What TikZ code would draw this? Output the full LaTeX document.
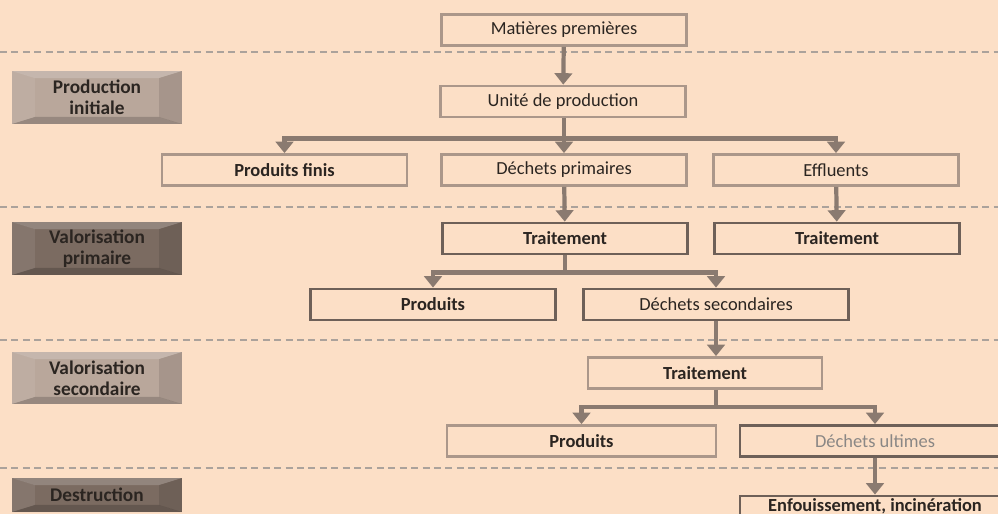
\documentclass[tikz,border=0pt]{standalone}
\usepackage{fontspec}
\setmainfont{Carlito}
\usetikzlibrary{arrows.meta}

\definecolor{fond}{HTML}{FCDFC6}
\definecolor{bordclair}{HTML}{AB978A}
\definecolor{bordfonce}{HTML}{6E6058}
\definecolor{fleche}{HTML}{8A7A70}
\definecolor{tiret}{HTML}{ABA29B}
\definecolor{phaseclair}{HTML}{B9A79B}
\definecolor{phasefonce}{HTML}{7B6B61}
\definecolor{texte}{HTML}{2B2521}

\tikzset{
	etape/.style={draw, line width=1.6pt, minimum width=4.9cm, minimum height=0.62cm,
		inner sep=0pt, text=texte, font=\fontsize{10.5}{12}\selectfont},
	clair/.style={etape, draw=bordclair},
	fonce/.style={etape, draw=bordfonce},
	gras/.style={font=\fontsize{10.5}{12}\selectfont\bfseries},
	phase/.style={minimum width=3.4cm, inner sep=0pt, align=center, text=texte,
		font=\fontsize{11}{12}\selectfont\bfseries,
		path picture={
			\fill[white,opacity=.18] (path picture bounding box.north west) -- (path picture bounding box.north east)
				-- ([xshift=-13pt,yshift=-4pt]path picture bounding box.north east) -- ([xshift=13pt,yshift=-4pt]path picture bounding box.north west) -- cycle;
			\fill[black,opacity=.18] (path picture bounding box.south west) -- (path picture bounding box.south east)
				-- ([xshift=-13pt,yshift=4pt]path picture bounding box.south east) -- ([xshift=13pt,yshift=4pt]path picture bounding box.south west) -- cycle;
			\fill[black,opacity=.10] (path picture bounding box.north east) -- (path picture bounding box.south east)
				-- ([xshift=-13pt,yshift=4pt]path picture bounding box.south east) -- ([xshift=-13pt,yshift=-4pt]path picture bounding box.north east) -- cycle;
			\fill[white,opacity=.08] (path picture bounding box.north west) -- (path picture bounding box.south west)
				-- ([xshift=13pt,yshift=4pt]path picture bounding box.south west) -- ([xshift=13pt,yshift=-4pt]path picture bounding box.north west) -- cycle;
		}},
	lien/.style={draw=fleche, line width=2.4pt},
	fl/.style={lien, -{Triangle[width=10pt,length=6.5pt]}},
	separ/.style={draw=tiret, line width=0.8pt, dash pattern=on 4pt off 2.5pt}
}

\begin{document}
\begin{tikzpicture}[x=0.02cm, y=-0.02cm]
	\useasboundingbox (0,0) rectangle (998,514);
	\fill[fond] (0,0) rectangle (998,514);
	\clip (0,0) rectangle (998,514);

	% separations entre les phases
	\foreach \y in {52,207,340,468}
		\draw[separ] (0,\y) -- (998,\y);

	% phases
	\node[phase, fill=phaseclair, minimum height=1.06cm] (p1) at (97,97.5) {Production\\initiale};
	\node[phase, fill=phasefonce, minimum height=1.06cm] (p2) at (97,248.5) {Valorisation\\primaire};
	\node[phase, fill=phaseclair, minimum height=1.04cm] (p3) at (97,378) {Valorisation\\secondaire};
	\node[phase, fill=phasefonce, minimum height=0.68cm] (p4) at (97,495) {Destruction};

	% production initiale
	\node[clair] (mat) at (564,30) {Matières premières};
	\node[clair] (unite) at (563,101.5) {Unité de production};
	\node[clair, gras] (pfinis) at (284.5,170) {Produits finis};
	\node[clair] (dprim) at (564,170) {Déchets primaires};
	\node[clair] (effl) at (836,170) {Effluents};

	% valorisation primaire
	\node[fonce, gras] (trait1) at (565,238.5) {Traitement};
	\node[fonce, gras] (trait1b) at (837,238.5) {Traitement};
	\node[fonce, gras] (prod1) at (433,304.5) {Produits};
	\node[fonce, minimum width=5.3cm] (dsec) at (716,304.5) {Déchets secondaires};

	% valorisation secondaire
	\node[clair, gras, minimum width=4.68cm] (trait2) at (705,373) {Traitement};
	\node[clair, gras, minimum width=5.38cm] (prod2) at (581.5,441) {Produits};
	\node[fonce, minimum width=5.4cm, text=texte!55] (dult) at (875,441) {Déchets ultimes};

	% destruction
	\node[fonce, gras, minimum width=5.4cm, minimum height=0.4cm] (enf) at (875,506) {Enfouissement, incinération};

	% liaisons
	\draw[fl] (mat) -- (unite);
	\draw[lien] (unite.south -| mat.south) -- ++(0,20) coordinate (j1);
	\draw[fl] (j1) -| (pfinis.north);
	\draw[fl] (j1) -- (dprim);
	\draw[fl] (j1) -| (effl.north);
	\draw[fl] (dprim) -- (trait1);
	\draw[fl] (effl) -- (trait1b);
	\draw[lien] (trait1.south) -- ++(0,17) coordinate (j2);
	\draw[fl] (j2) -| (prod1.north);
	\draw[fl] (j2) -| (dsec.north);
	\draw[fl] (dsec.south) -- (dsec.south |- trait2.north);
	\draw[lien] (trait2.south -| dsec.south) -- ++(0,17) coordinate (j3);
	\draw[fl] (j3) -| (prod2.north);
	\draw[fl] (j3) -| (dult.north);
	\draw[fl] (dult) -- (enf);
\end{tikzpicture}
\end{document}
